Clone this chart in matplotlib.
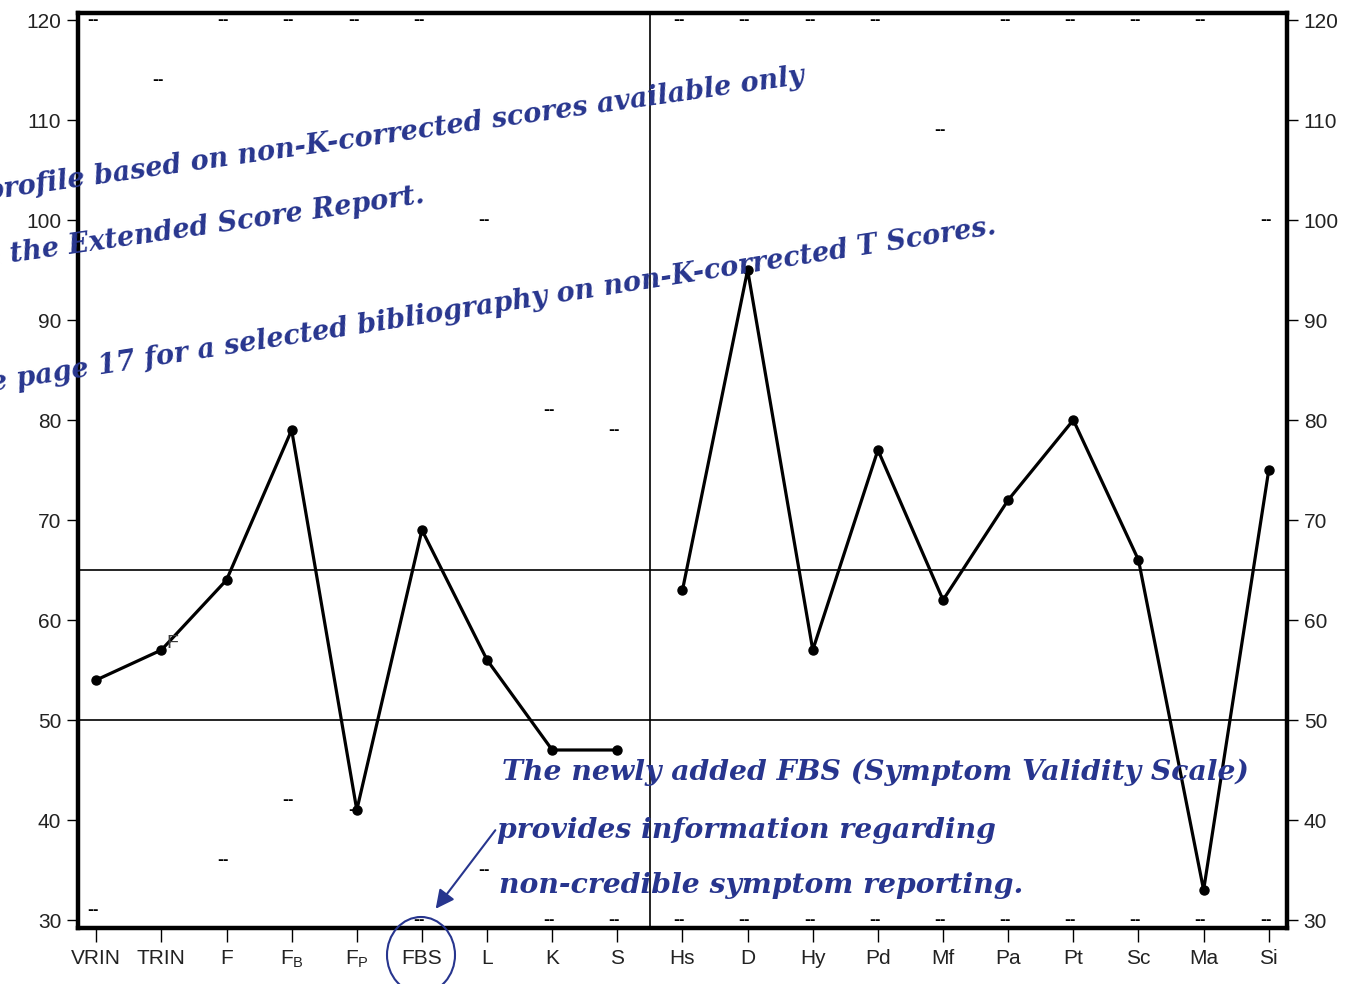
import matplotlib.pyplot as plt
import numpy as np
from matplotlib.patches import Ellipse

plt.rcParams['font.family'] = ['Liberation Sans', 'DejaVu Sans']

scales = ['VRIN', 'TRIN', 'F', 'FB', 'FP', 'FBS', 'L', 'K', 'S',
          'Hs', 'D', 'Hy', 'Pd', 'Mf', 'Pa', 'Pt', 'Sc', 'Ma', 'Si']
tick_labels = ['VRIN', 'TRIN', 'F', r'F$_\mathregular{B}$', r'F$_\mathregular{P}$', 'FBS', 'L', 'K', 'S',
               'Hs', 'D', 'Hy', 'Pd', 'Mf', 'Pa', 'Pt', 'Sc', 'Ma', 'Si']
t_scores = [54, 57, 64, 79, 41, 69, 56, 47, 47,
            63, 95, 57, 77, 62, 72, 80, 66, 33, 75]
# highest / lowest possible T score for each scale ("--" marks)
upper_limit = [120, 114, 120, 120, 120, 120, 100, 81, 79,
               120, 120, 120, 120, 109, 120, 120, 120, 120, 100]
lower_limit = [31, np.nan, 36, 42, 41, 30, 35, 30, 30,
               30, 30, 30, 30, 30, 30, 30, 30, 30, 30]
n_validity = 9

blue = '#27358e'

fig = plt.figure(figsize=(13.56, 9.84), dpi=100)
ax = fig.add_axes([78 / 1356, 1 - 928 / 984, (1287 - 78) / 1356, (928 - 13) / 984])

x = np.arange(len(scales))
ax.set_xlim(-0.28, len(scales) - 1 + 0.28)
ax.set_ylim(29.2, 120.7)

ax.axhline(65, color='black', lw=1.2, zorder=1)
ax.axhline(50, color='black', lw=1.2, zorder=1)
ax.axvline(n_validity - 0.5, color='black', lw=1.2, zorder=1)

ax.plot(x[:n_validity], t_scores[:n_validity], color='black', lw=2.3,
        marker='o', ms=6.5, zorder=3)
ax.plot(x[n_validity:], t_scores[n_validity:], color='black', lw=2.3,
        marker='o', ms=6.5, zorder=3)

dash_kw = dict(ha='center', va='center', fontsize=10, family='DejaVu Sans',
               weight='bold', color='black')
for xi, up, lo in zip(x, upper_limit, lower_limit):
    ax.text(xi - 0.05, up, '--', **dash_kw)
    if not np.isnan(lo):
        ax.text(xi - 0.05, lo, '--', **dash_kw)

# TRIN direction
ax.text(1.08, 57.6, 'F', fontsize=14, color='#3a3a3a', ha='left', va='center',
        zorder=4)

ax.set_xticks(x)
ax.set_xticklabels(tick_labels, fontsize=15, color='#222222')
ax.set_yticks(range(30, 121, 10))
ax.tick_params(axis='x', length=10, width=1, pad=5)
ax.tick_params(axis='y', length=8, width=1, labelsize=15, labelcolor='#222222',
               left=True, right=True, labelleft=True, labelright=True, pad=4)
for sp in ax.spines.values():
    sp.set_linewidth(3.2)

# handwritten notes
note_kw = dict(color=blue, fontsize=19.5, family='DejaVu Serif', style='italic',
               weight='bold', rotation_mode='anchor', ha='left', va='baseline')
fig.text(-14 / 1356, 1 - 200 / 984, 'profile based on non-K-corrected scores available only',
         rotation=8.1, **note_kw)
fig.text(-28 / 1356, 1 - 268 / 984, 'in the Extended Score Report.',
         rotation=8.2, **note_kw)
fig.text(-45 / 1356, 1 - 397 / 984, 'See page 17 for a selected bibliography on non-K-corrected T Scores.',
         rotation=8.9, **note_kw)

low_kw = dict(color=blue, fontsize=20.3, family='DejaVu Serif', style='italic',
              weight='bold', ha='left', va='baseline')
fig.text(502 / 1356, 1 - 780 / 984, 'The newly added FBS (Symptom Validity Scale)', **low_kw)
fig.text(497 / 1356, 1 - 838 / 984, 'provides information regarding', **low_kw)
fig.text(499 / 1356, 1 - 893 / 984, 'non-credible symptom reporting.', **low_kw)

ax.annotate('', xy=(434 / 1356, 1 - 911 / 984), xytext=(497 / 1356, 1 - 828 / 984),
            xycoords='figure fraction', textcoords='figure fraction',
            arrowprops=dict(arrowstyle='-|>', color=blue, lw=1.5, mutation_scale=28))

circle = Ellipse((421 / 1356, 1 - 955 / 984), 68 / 1356, 76 / 984,
                 transform=fig.transFigure, fill=False, edgecolor=blue, lw=1.5)
fig.patches.append(circle)

fig.savefig('out.png', dpi=100)
